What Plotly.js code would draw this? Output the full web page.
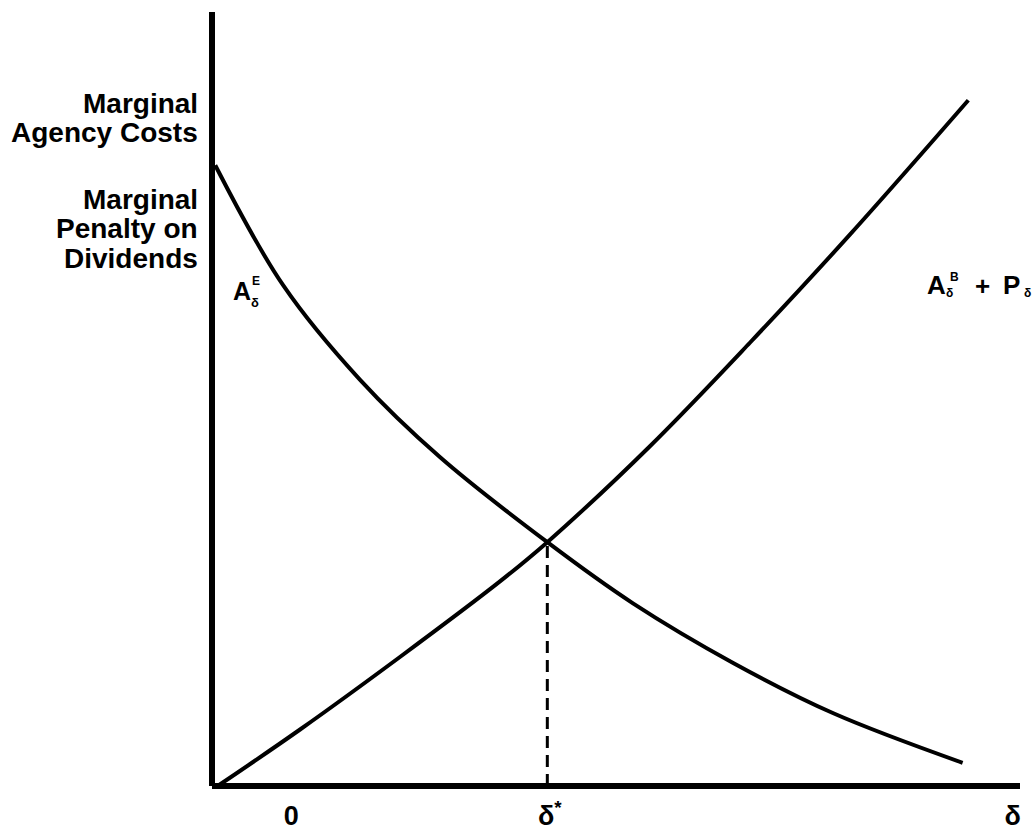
<!DOCTYPE html>
<html>
<head>
<meta charset="utf-8">
<script src="https://cdn.plot.ly/plotly-3.0.1.min.js"></script>
<style>
  html, body { margin: 0; padding: 0; background: #fff; }
  #chart { width: 1035px; height: 832px; }
</style>
</head>
<body>
<div id="chart"></div>
<script>
// curve, axes run 0..10 both ways
const equityX = [0.04, 0.88, 1.83, 2.82, 4.15, 5.21, 6.45, 7.69, 9.29];
const equityY = [8.02, 6.47, 5.25, 4.25, 3.15, 2.36, 1.59, 0.94, 0.30];

const bondX = [0.07, 1.09, 2.33, 3.56, 4.15, 5.42, 6.66, 7.90, 9.36];
const bondY = [0.00, 0.73, 1.67, 2.64, 3.15, 4.39, 5.73, 7.13, 8.86];

const deltaStar = [4.15, 4.15];
const deltaStarY = [0, 3.15];

const tickVals = [0.98, 4.18, 9.91];
const tickText = ['<b>0</b>', '<b>δ<sup>*</sup></b>', '<b>δ</b>'];

const yLabelLines = ['Marginal', 'Agency Costs', 'Marginal', 'Penalty on', 'Dividends'];
const yLabelPos = [8.82, 8.44, 7.58, 7.20, 6.82];

const xMax = 10;
const fontFam = 'Liberation Sans, Arial, sans-serif';
const ink = '#000';

const traceEquity = {
    x: equityX,
    y: equityY,
    type: 'scatter',
    mode: 'lines',
    line: {color: ink, width: 4, shape: 'spline'},
    hoverinfo: 'skip'
};

const traceBond = {
    x: bondX,
    y: bondY,
    type: 'scatter',
    mode: 'lines',
    line: {color: ink, width: 4, shape: 'spline'},
    hoverinfo: 'skip'
};

const traceStar = {
    x: deltaStar,
    y: deltaStarY,
    type: 'scatter',
    mode: 'lines',
    line: {color: ink, width: 3, dash: '12px,7px'},
    hoverinfo: 'skip'
};

// x in data units, placed on paper so labels outside the range still show
function label(text, x, y, size, anchor) {
    return {
        text: '<b>' + text + '</b>',
        x: x / xMax, y: y, xref: 'paper', yref: 'y',
        xanchor: anchor || 'center', yanchor: 'middle',
        showarrow: false,
        font: {family: fontFam, size: size, color: ink}
    };
}

const annotations = yLabelLines.map((t, i) => label(t, -0.15, yLabelPos[i], 28, 'right'));

// A sub delta sup E, next to the falling curve
annotations.push(label('A', 0.37, 6.40, 25));
annotations.push(label('E', 0.54, 6.52, 12));
annotations.push(label('δ', 0.53, 6.25, 13));

// A sub delta sup B + P sub delta, next to the rising curve
annotations.push(label('A', 8.97, 6.47, 26));
annotations.push(label('B', 9.19, 6.58, 12));
annotations.push(label('δ', 9.13, 6.37, 12));
annotations.push(label('+', 9.54, 6.46, 26));
annotations.push(label('P', 9.90, 6.47, 26));
annotations.push(label('δ', 10.09, 6.37, 12));

const layout = {
    width: 1035,
    height: 832,
    margin: {l: 212, r: 15, t: 12, b: 46},
    showlegend: false,
    paper_bgcolor: '#fff',
    plot_bgcolor: '#fff',
    xaxis: {
        range: [0, xMax],
        showgrid: false,
        zeroline: false,
        showline: false,
        ticks: '',
        tickvals: tickVals,
        ticktext: tickText,
        tickfont: {family: fontFam, size: 27, color: ink},
        ticklabelstandoff: 11,
        fixedrange: true
    },
    yaxis: {
        range: [0, 10],
        showgrid: false,
        zeroline: false,
        showline: false,
        showticklabels: false,
        ticks: '',
        fixedrange: true
    },
    shapes: [
        {type: 'line', xref: 'paper', yref: 'paper', x0: 0, x1: 0, y0: 0, y1: 1,
         line: {color: ink, width: 6}},
        {type: 'line', xref: 'paper', yref: 'paper', x0: 0, x1: 1, y0: 0, y1: 0,
         line: {color: ink, width: 6}}
    ],
    annotations: annotations
};

Plotly.newPlot('chart', [traceEquity, traceBond, traceStar], layout, {displayModeBar: false});
</script>
</body>
</html>
